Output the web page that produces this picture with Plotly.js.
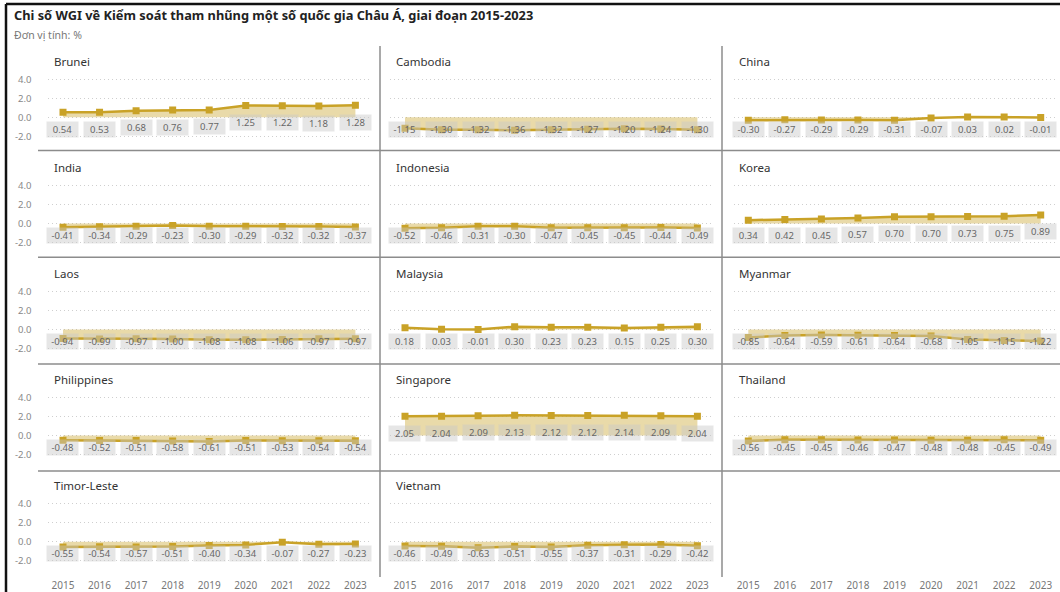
<!DOCTYPE html>
<html>
<head>
<meta charset="utf-8">
<script src="https://cdn.plot.ly/plotly-3.0.1.min.js"></script>
<style>
html,body{margin:0;padding:0;background:#fff;}
#chart{width:1060px;height:592px;}
</style>
</head>
<body>
<div id="chart"></div>
<script>
// ---- data ----
const years = [2015, 2016, 2017, 2018, 2019, 2020, 2021, 2022, 2023];
const countries = ['Brunei', 'Cambodia', 'China', 'India', 'Indonesia', 'Korea', 'Laos', 'Malaysia', 'Myanmar', 'Philippines', 'Singapore', 'Thailand', 'Timor-Leste', 'Vietnam'];
const brunei      = [0.54, 0.53, 0.68, 0.76, 0.77, 1.25, 1.22, 1.18, 1.28];
const cambodia    = [-1.15, -1.30, -1.32, -1.36, -1.32, -1.27, -1.20, -1.24, -1.30];
const china       = [-0.30, -0.27, -0.29, -0.29, -0.31, -0.07, 0.03, 0.02, -0.01];
const india       = [-0.41, -0.34, -0.29, -0.23, -0.30, -0.29, -0.32, -0.32, -0.37];
const indonesia   = [-0.52, -0.46, -0.31, -0.30, -0.47, -0.45, -0.45, -0.44, -0.49];
const korea       = [0.34, 0.42, 0.45, 0.57, 0.70, 0.70, 0.73, 0.75, 0.89];
const laos        = [-0.94, -0.99, -0.97, -1.00, -1.08, -1.08, -1.06, -0.97, -0.97];
const malaysia    = [0.18, 0.03, -0.01, 0.30, 0.23, 0.23, 0.15, 0.25, 0.30];
const myanmar     = [-0.85, -0.64, -0.59, -0.61, -0.64, -0.68, -1.05, -1.15, -1.22];
const philippines = [-0.48, -0.52, -0.51, -0.58, -0.61, -0.51, -0.53, -0.54, -0.54];
const singapore   = [2.05, 2.04, 2.09, 2.13, 2.12, 2.12, 2.14, 2.09, 2.04];
const thailand    = [-0.56, -0.45, -0.45, -0.46, -0.47, -0.48, -0.48, -0.45, -0.49];
const timorLeste  = [-0.55, -0.54, -0.57, -0.51, -0.40, -0.34, -0.07, -0.27, -0.23];
const vietnam     = [-0.46, -0.49, -0.63, -0.51, -0.55, -0.37, -0.31, -0.29, -0.42];
const yTickVals = [-2, 0, 2, 4];
const yTickText = ['-2.0', '0.0', '2.0', '4.0'];
const chartTitle = 'Chi số WGI về Kiểm soát tham nhũng một số quốc gia Châu Á, giai đoạn 2015-2023';
const chartSubtitle = 'Đơn vị tính: %';

const seriesList = [brunei, cambodia, china, india, indonesia, korea, laos, malaysia, myanmar, philippines, singapore, thailand, timorLeste, vietnam];

// ---- layout geometry ----
const W = 1060, H = 592;
const FONT = 'Noto Sans, Open Sans, sans-serif';
const LINE = '#C9A227';
const FILL = 'rgba(201,162,39,0.40)';
const colP2015 = [63, 405, 748.3];
const ppy = 36.55;
const rowZero = [117.3, 223.4, 329.5, 435.6, 541.7];
const ppu = 9.5;
const yRange = [-2.6, 4.6];
const xRange = [2014.6, 2023.4];

const data = [];
const layout = {
  width: W, height: H,
  margin: {l: 0, r: 0, t: 0, b: 0},
  paper_bgcolor: '#fff', plot_bgcolor: 'rgba(0,0,0,0)',
  showlegend: false,
  font: {family: FONT, color: '#666'},
  annotations: [],
  shapes: []
};

for (let i = 0; i < 15; i++) {
  const r = Math.floor(i / 3), c = i % 3;
  const n = i + 1;
  const xa = 'xaxis' + (n === 1 ? '' : n);
  const ya = 'yaxis' + (n === 1 ? '' : n);
  const xr = 'x' + (n === 1 ? '' : n);
  const yr = 'y' + (n === 1 ? '' : n);
  const p = colP2015[c];
  const z = rowZero[r];
  const hasData = i < seriesList.length;
  layout[xa] = {
    domain: [(p - (years[0] - xRange[0]) * ppy) / W, (p + (xRange[1] - years[0]) * ppy) / W],
    range: xRange, anchor: yr,
    tickvals: years, ticktext: years.map(String),
    showticklabels: r === 4, ticks: '', ticklabelstandoff: 12,
    tickfont: {size: 10, color: '#777', family: FONT},
    showgrid: false, zeroline: false, showline: false, fixedrange: true
  };
  layout[ya] = {
    domain: [1 - (z - yRange[0] * ppu) / H, 1 - (z - yRange[1] * ppu) / H],
    range: yRange, anchor: xr,
    tickvals: yTickVals, ticktext: yTickText,
    showticklabels: c === 0, ticks: '', ticklabelstandoff: 16,
    tickfont: {size: 9.5, color: '#888', family: FONT},
    showgrid: hasData, gridcolor: '#cfcfcf', griddash: '1px,3px', gridwidth: 1,
    zeroline: false, showline: false, fixedrange: true
  };
  if (!hasData) {
    data.push({x: years, y: years.map(() => null), xaxis: xr, yaxis: yr, type: 'scatter', mode: 'lines', hoverinfo: 'skip'});
    continue;
  }
  const vals = seriesList[i];
  data.push({
    x: years, y: vals, xaxis: xr, yaxis: yr, type: 'scatter', mode: 'lines+markers',
    fill: 'tozeroy', fillcolor: FILL,
    line: {color: LINE, width: 2.5},
    marker: {symbol: 'square', size: 7, color: LINE},
    hoverinfo: 'x+y'
  });
  // panel title
  layout.annotations.push({
    xref: 'paper', yref: 'paper', x: (p - 11) / W, y: 1 - (z - 55.8) / H,
    xanchor: 'left', yanchor: 'middle', showarrow: false,
    text: countries[i], font: {size: 11.5, color: '#333', family: FONT}
  });
  // data labels
  vals.forEach((v, k) => {
    layout.annotations.push({
      xref: xr, yref: yr, x: years[k], y: Math.max(v - 17 / ppu, -12 / ppu),
      showarrow: false, text: v.toFixed(2),
      width: 31, height: 15, borderpad: 0,
      bgcolor: 'rgba(200,200,200,0.45)',
      font: {size: 9.5, color: '#666', family: FONT},
      xanchor: 'center', yanchor: 'middle'
    });
  });
}

// title + subtitle
layout.annotations.push({
  xref: 'paper', yref: 'paper', x: 12 / W, y: 1 - 15 / H, xanchor: 'left', yanchor: 'middle',
  showarrow: false, text: '<b>' + chartTitle + '</b>', font: {size: 12.8, color: '#222', family: FONT}
});
layout.annotations.push({
  xref: 'paper', yref: 'paper', x: 12 / W, y: 1 - 35 / H, xanchor: 'left', yanchor: 'middle',
  showarrow: false, text: chartSubtitle, font: {size: 10.5, color: '#777', family: FONT}
});

// separators
const sep = {color: '#8c8c8c', width: 1.5};
[380, 722].forEach(px => layout.shapes.push({type: 'line', xref: 'paper', yref: 'paper', x0: px / W, x1: px / W, y0: 1 - 46 / H, y1: 1 - 577 / H, line: sep}));
[150.5, 257.3, 364, 471].forEach(py => layout.shapes.push({type: 'line', xref: 'paper', yref: 'paper', x0: 38 / W, x1: 1, y0: 1 - py / H, y1: 1 - py / H, line: sep}));
// outer frame (left & top)
layout.shapes.push({type: 'line', xref: 'paper', yref: 'paper', x0: 6 / W, x1: 6 / W, y0: 0, y1: 1 - 4 / H, line: {color: '#111', width: 2.5}});
layout.shapes.push({type: 'line', xref: 'paper', yref: 'paper', x0: 6 / W, x1: 1, y0: 1 - 4 / H, y1: 1 - 4 / H, line: {color: '#111', width: 2.5}});

Plotly.newPlot('chart', data, layout, {displayModeBar: false, staticPlot: true});
</script>
</body>
</html>
